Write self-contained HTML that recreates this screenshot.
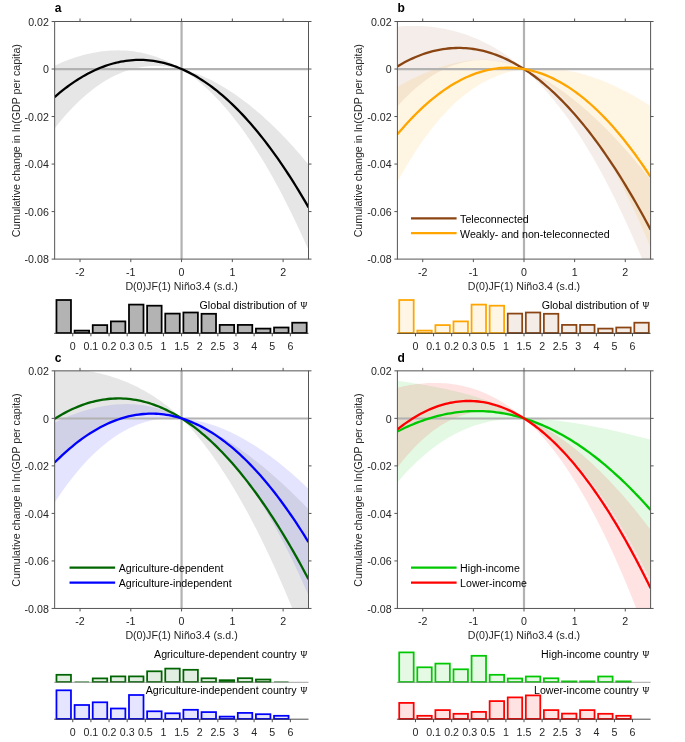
<!DOCTYPE html>
<html><head><meta charset="utf-8"><style>
html,body{margin:0;padding:0;background:#fff;}
body{width:685px;height:742px;overflow:hidden;}
svg{display:block;will-change:transform;}
.t{font-family:"Liberation Sans", sans-serif;font-size:10.65px;fill:#262626;}
.lt{font-family:"Liberation Sans", sans-serif;font-size:12px;font-weight:bold;fill:#000;}
.k{fill:#000;}
.psi{font-family:"Liberation Serif", serif;}
</style></head><body>
<svg width="685" height="742" viewBox="0 0 685 742">
<rect width="685" height="742" fill="#ffffff"/>
<defs><clipPath id="clipa"><rect x="54.65" y="21.50" width="253.85" height="237.60"/></clipPath></defs>
<g clip-path="url(#clipa)">
<path d="M54.65,65.69 L57.19,64.52 L59.73,63.39 L62.27,62.31 L64.80,61.27 L67.34,60.28 L69.88,59.33 L72.42,58.43 L74.96,57.57 L77.50,56.77 L80.03,56.00 L82.57,55.29 L85.11,54.62 L87.65,54.00 L90.19,53.42 L92.73,52.90 L95.27,52.42 L97.80,51.99 L100.34,51.61 L102.88,51.28 L105.42,51.00 L107.96,50.77 L110.50,50.59 L113.04,50.46 L115.57,50.38 L118.11,50.36 L120.65,50.39 L123.19,50.47 L125.73,50.61 L128.27,50.80 L130.81,51.05 L133.34,51.35 L135.88,51.72 L138.42,52.14 L140.96,52.62 L143.50,53.16 L146.04,53.76 L148.57,54.42 L151.11,55.14 L153.65,55.93 L156.19,56.78 L158.73,57.70 L161.27,58.68 L163.81,59.73 L166.34,60.84 L168.88,62.03 L171.42,63.29 L173.96,64.61 L176.50,66.01 L179.04,67.48 L181.57,69.02 L184.11,69.68 L186.65,70.39 L189.19,71.16 L191.73,71.99 L194.27,72.88 L196.81,73.82 L199.34,74.82 L201.88,75.87 L204.42,76.98 L206.96,78.14 L209.50,79.35 L212.04,80.61 L214.58,81.93 L217.11,83.30 L219.65,84.72 L222.19,86.19 L224.73,87.71 L227.27,89.28 L229.81,90.90 L232.34,92.58 L234.88,94.29 L237.42,96.06 L239.96,97.88 L242.50,99.74 L245.04,101.65 L247.58,103.61 L250.11,105.62 L252.65,107.68 L255.19,109.78 L257.73,111.93 L260.27,114.12 L262.81,116.36 L265.35,118.65 L267.88,120.99 L270.42,123.37 L272.96,125.80 L275.50,128.27 L278.04,130.79 L280.58,133.35 L283.12,135.96 L285.65,138.61 L288.19,141.31 L290.73,144.06 L293.27,146.85 L295.81,149.68 L298.35,152.56 L300.88,155.49 L303.42,158.46 L305.96,161.48 L308.50,164.54 L308.50,250.07 L305.96,244.34 L303.42,238.70 L300.88,233.14 L298.35,227.67 L295.81,222.30 L293.27,217.01 L290.73,211.80 L288.19,206.69 L285.65,201.66 L283.12,196.72 L280.58,191.87 L278.04,187.11 L275.50,182.43 L272.96,177.84 L270.42,173.34 L267.88,168.93 L265.35,164.60 L262.81,160.36 L260.27,156.20 L257.73,152.14 L255.19,148.15 L252.65,144.26 L250.11,140.45 L247.58,136.73 L245.04,133.09 L242.50,129.54 L239.96,126.07 L237.42,122.69 L234.88,119.39 L232.34,116.17 L229.81,113.05 L227.27,110.00 L224.73,107.04 L222.19,104.16 L219.65,101.36 L217.11,98.65 L214.58,96.02 L212.04,93.46 L209.50,90.99 L206.96,88.61 L204.42,86.30 L201.88,84.07 L199.34,81.92 L196.81,79.84 L194.27,77.85 L191.73,75.93 L189.19,74.09 L186.65,72.33 L184.11,70.64 L181.57,69.02 L179.04,68.42 L176.50,67.89 L173.96,67.41 L171.42,67.00 L168.88,66.65 L166.34,66.36 L163.81,66.14 L161.27,65.98 L158.73,65.89 L156.19,65.86 L153.65,65.91 L151.11,66.02 L148.57,66.20 L146.04,66.45 L143.50,66.78 L140.96,67.18 L138.42,67.65 L135.88,68.19 L133.34,68.81 L130.81,69.50 L128.27,70.27 L125.73,71.12 L123.19,72.05 L120.65,73.05 L118.11,74.14 L115.57,75.30 L113.04,76.55 L110.50,77.87 L107.96,79.28 L105.42,80.77 L102.88,82.34 L100.34,84.00 L97.80,85.74 L95.27,87.56 L92.73,89.47 L90.19,91.46 L87.65,93.54 L85.11,95.70 L82.57,97.95 L80.03,100.28 L77.50,102.71 L74.96,105.21 L72.42,107.81 L69.88,110.49 L67.34,113.26 L64.80,116.12 L62.27,119.06 L59.73,122.09 L57.19,125.21 L54.65,128.42 Z" fill="#808080" fill-opacity="0.200" stroke="none"/>
<line x1="54.65" y1="69.17" x2="308.50" y2="69.17" stroke="#b2b2b2" stroke-width="2.2"/>
<line x1="181.57" y1="21.50" x2="181.57" y2="259.10" stroke="#b2b2b2" stroke-width="2.2"/>
<path d="M54.65,97.06 L57.19,94.87 L59.73,92.74 L62.27,90.68 L64.80,88.69 L67.34,86.77 L69.88,84.91 L72.42,83.12 L74.96,81.39 L77.50,79.74 L80.03,78.14 L82.57,76.62 L85.11,75.16 L87.65,73.77 L90.19,72.44 L92.73,71.18 L95.27,69.99 L97.80,68.86 L100.34,67.80 L102.88,66.81 L105.42,65.88 L107.96,65.02 L110.50,64.23 L113.04,63.50 L115.57,62.84 L118.11,62.25 L120.65,61.72 L123.19,61.26 L125.73,60.87 L128.27,60.54 L130.81,60.28 L133.34,60.08 L135.88,59.95 L138.42,59.89 L140.96,59.90 L143.50,59.97 L146.04,60.11 L148.57,60.31 L151.11,60.58 L153.65,60.92 L156.19,61.32 L158.73,61.79 L161.27,62.33 L163.81,62.93 L166.34,63.60 L168.88,64.34 L171.42,65.14 L173.96,66.01 L176.50,66.95 L179.04,67.95 L181.57,69.02 L184.11,70.16 L186.65,71.36 L189.19,72.63 L191.73,73.96 L194.27,75.36 L196.81,76.83 L199.34,78.37 L201.88,79.97 L204.42,81.64 L206.96,83.37 L209.50,85.17 L212.04,87.04 L214.58,88.97 L217.11,90.97 L219.65,93.04 L222.19,95.18 L224.73,97.38 L227.27,99.64 L229.81,101.98 L232.34,104.37 L234.88,106.84 L237.42,109.37 L239.96,111.97 L242.50,114.64 L245.04,117.37 L247.58,120.17 L250.11,123.04 L252.65,125.97 L255.19,128.97 L257.73,132.03 L260.27,135.16 L262.81,138.36 L265.35,141.63 L267.88,144.96 L270.42,148.35 L272.96,151.82 L275.50,155.35 L278.04,158.95 L280.58,162.61 L283.12,166.34 L285.65,170.14 L288.19,174.00 L290.73,177.93 L293.27,181.93 L295.81,185.99 L298.35,190.12 L300.88,194.32 L303.42,198.58 L305.96,202.91 L308.50,207.30" fill="none" stroke="#000000" stroke-width="2.3"/>
</g>
<rect x="54.65" y="21.50" width="253.85" height="237.60" fill="none" stroke="#555555" stroke-width="1"/>
<path d="M80.03,259.10 v3 M80.03,21.50 v-3 M130.81,259.10 v3 M130.81,21.50 v-3 M181.57,259.10 v3 M181.57,21.50 v-3 M232.34,259.10 v3 M232.34,21.50 v-3 M283.12,259.10 v3 M283.12,21.50 v-3 M54.65,21.50 h-3 M308.50,21.50 h3 M54.65,69.02 h-3 M308.50,69.02 h3 M54.65,116.54 h-3 M308.50,116.54 h3 M54.65,164.06 h-3 M308.50,164.06 h3 M54.65,211.58 h-3 M308.50,211.58 h3 M54.65,259.10 h-3 M308.50,259.10 h3" stroke="#555555" stroke-width="1" fill="none"/>
<text x="80.03" y="275.50" text-anchor="middle" class="t">-2</text>
<text x="130.81" y="275.50" text-anchor="middle" class="t">-1</text>
<text x="181.57" y="275.50" text-anchor="middle" class="t">0</text>
<text x="232.34" y="275.50" text-anchor="middle" class="t">1</text>
<text x="283.12" y="275.50" text-anchor="middle" class="t">2</text>
<text x="48.85" y="25.80" text-anchor="end" class="t">0.02</text>
<text x="48.85" y="73.32" text-anchor="end" class="t">0</text>
<text x="48.85" y="120.84" text-anchor="end" class="t">-0.02</text>
<text x="48.85" y="168.36" text-anchor="end" class="t">-0.04</text>
<text x="48.85" y="215.88" text-anchor="end" class="t">-0.06</text>
<text x="48.85" y="263.40" text-anchor="end" class="t">-0.08</text>
<text x="181.57" y="290.10" text-anchor="middle" class="t">D(0)JF(1) Niño3.4 (s.d.)</text>
<text transform="translate(19.65,140.70) rotate(-90)" text-anchor="middle" class="t">Cumulative change in ln(GDP per capita)</text>
<text x="54.85" y="12.40" class="lt">a</text>
<defs><clipPath id="clipb"><rect x="397.40" y="21.50" width="253.20" height="237.60"/></clipPath></defs>
<g clip-path="url(#clipb)">
<path d="M397.40,26.61 L399.93,26.39 L402.46,26.22 L405.00,26.07 L407.53,25.97 L410.06,25.91 L412.59,25.88 L415.12,25.89 L417.66,25.94 L420.19,26.03 L422.72,26.16 L425.25,26.32 L427.78,26.53 L430.32,26.78 L432.85,27.06 L435.38,27.39 L437.91,27.76 L440.44,28.16 L442.98,28.61 L445.51,29.11 L448.04,29.64 L450.57,30.22 L453.10,30.84 L455.64,31.51 L458.17,32.22 L460.70,32.97 L463.23,33.77 L465.76,34.62 L468.30,35.52 L470.83,36.46 L473.36,37.45 L475.89,38.50 L478.42,39.59 L480.96,40.73 L483.49,41.93 L486.02,43.18 L488.55,44.48 L491.08,45.84 L493.62,47.26 L496.15,48.73 L498.68,50.27 L501.21,51.86 L503.74,53.51 L506.28,55.22 L508.81,57.00 L511.34,58.84 L513.87,60.74 L516.40,62.71 L518.94,64.74 L521.47,66.85 L524.00,69.02 L526.53,70.11 L529.06,71.25 L531.60,72.44 L534.13,73.69 L536.66,75.00 L539.19,76.35 L541.72,77.76 L544.26,79.22 L546.79,80.73 L549.32,82.28 L551.85,83.89 L554.38,85.54 L556.92,87.24 L559.45,88.99 L561.98,90.78 L564.51,92.62 L567.04,94.50 L569.58,96.42 L572.11,98.39 L574.64,100.41 L577.17,102.47 L579.70,104.56 L582.24,106.71 L584.77,108.89 L587.30,111.11 L589.83,113.38 L592.36,115.69 L594.90,118.03 L597.43,120.42 L599.96,122.85 L602.49,125.32 L605.02,127.82 L607.56,130.37 L610.09,132.95 L612.62,135.58 L615.15,138.24 L617.68,140.94 L620.22,143.68 L622.75,146.46 L625.28,149.27 L627.81,152.13 L630.34,155.02 L632.88,157.95 L635.41,160.92 L637.94,163.92 L640.47,166.96 L643.00,170.04 L645.54,173.16 L648.07,176.31 L650.60,179.50 L650.60,279.77 L648.07,273.44 L645.54,267.20 L643.00,261.05 L640.47,254.98 L637.94,249.01 L635.41,243.12 L632.88,237.33 L630.34,231.62 L627.81,226.00 L625.28,220.47 L622.75,215.03 L620.22,209.68 L617.68,204.41 L615.15,199.24 L612.62,194.15 L610.09,189.15 L607.56,184.23 L605.02,179.40 L602.49,174.66 L599.96,170.01 L597.43,165.45 L594.90,160.97 L592.36,156.57 L589.83,152.27 L587.30,148.04 L584.77,143.91 L582.24,139.85 L579.70,135.89 L577.17,132.00 L574.64,128.20 L572.11,124.49 L569.58,120.86 L567.04,117.31 L564.51,113.84 L561.98,110.45 L559.45,107.15 L556.92,103.92 L554.38,100.78 L551.85,97.71 L549.32,94.72 L546.79,91.82 L544.26,88.98 L541.72,86.23 L539.19,83.55 L536.66,80.95 L534.13,78.42 L531.60,75.96 L529.06,73.57 L526.53,71.26 L524.00,69.02 L521.47,67.99 L518.94,67.02 L516.40,66.11 L513.87,65.25 L511.34,64.46 L508.81,63.73 L506.28,63.06 L503.74,62.46 L501.21,61.92 L498.68,61.45 L496.15,61.04 L493.62,60.71 L491.08,60.44 L488.55,60.24 L486.02,60.11 L483.49,60.06 L480.96,60.07 L478.42,60.17 L475.89,60.33 L473.36,60.58 L470.83,60.89 L468.30,61.29 L465.76,61.77 L463.23,62.32 L460.70,62.95 L458.17,63.67 L455.64,64.46 L453.10,65.34 L450.57,66.30 L448.04,67.34 L445.51,68.47 L442.98,69.68 L440.44,70.97 L437.91,72.35 L435.38,73.81 L432.85,75.36 L430.32,77.00 L427.78,78.72 L425.25,80.53 L422.72,82.42 L420.19,84.40 L417.66,86.47 L415.12,88.63 L412.59,90.87 L410.06,93.21 L407.53,95.63 L405.00,98.14 L402.46,100.74 L399.93,103.43 L397.40,106.20 Z" fill="#8b4513" fill-opacity="0.095" stroke="none"/>
<path d="M397.40,86.96 L399.93,85.51 L402.46,84.09 L405.00,82.71 L407.53,81.36 L410.06,80.05 L412.59,78.77 L415.12,77.53 L417.66,76.33 L420.19,75.16 L422.72,74.03 L425.25,72.94 L427.78,71.88 L430.32,70.87 L432.85,69.89 L435.38,68.95 L437.91,68.06 L440.44,67.20 L442.98,66.38 L445.51,65.61 L448.04,64.88 L450.57,64.20 L453.10,63.56 L455.64,62.97 L458.17,62.42 L460.70,61.92 L463.23,61.47 L465.76,61.08 L468.30,60.73 L470.83,60.44 L473.36,60.20 L475.89,60.01 L478.42,59.89 L480.96,59.82 L483.49,59.81 L486.02,59.86 L488.55,59.98 L491.08,60.16 L493.62,60.41 L496.15,60.72 L498.68,61.10 L501.21,61.55 L503.74,62.08 L506.28,62.67 L508.81,63.35 L511.34,64.09 L513.87,64.92 L516.40,65.82 L518.94,66.81 L521.47,67.87 L524.00,69.02 L526.53,68.71 L529.06,68.45 L531.60,68.25 L534.13,68.09 L536.66,67.99 L539.19,67.94 L541.72,67.93 L544.26,67.98 L546.79,68.07 L549.32,68.20 L551.85,68.38 L554.38,68.61 L556.92,68.88 L559.45,69.20 L561.98,69.56 L564.51,69.96 L567.04,70.40 L569.58,70.88 L572.11,71.41 L574.64,71.97 L577.17,72.57 L579.70,73.22 L582.24,73.90 L584.77,74.62 L587.30,75.38 L589.83,76.18 L592.36,77.02 L594.90,77.89 L597.43,78.80 L599.96,79.75 L602.49,80.74 L605.02,81.76 L607.56,82.82 L610.09,83.91 L612.62,85.04 L615.15,86.21 L617.68,87.41 L620.22,88.64 L622.75,89.92 L625.28,91.22 L627.81,92.57 L630.34,93.94 L632.88,95.36 L635.41,96.80 L637.94,98.28 L640.47,99.80 L643.00,101.35 L645.54,102.93 L648.07,104.55 L650.60,106.20 L650.60,247.58 L648.07,241.52 L645.54,235.57 L643.00,229.72 L640.47,223.97 L637.94,218.33 L635.41,212.80 L632.88,207.37 L630.34,202.04 L627.81,196.82 L625.28,191.70 L622.75,186.68 L620.22,181.77 L617.68,176.96 L615.15,172.25 L612.62,167.64 L610.09,163.14 L607.56,158.74 L605.02,154.45 L602.49,150.25 L599.96,146.16 L597.43,142.17 L594.90,138.28 L592.36,134.50 L589.83,130.81 L587.30,127.22 L584.77,123.74 L582.24,120.35 L579.70,117.07 L577.17,113.88 L574.64,110.80 L572.11,107.81 L569.58,104.92 L567.04,102.13 L564.51,99.43 L561.98,96.83 L559.45,94.33 L556.92,91.92 L554.38,89.61 L551.85,87.40 L549.32,85.27 L546.79,83.24 L544.26,81.30 L541.72,79.46 L539.19,77.70 L536.66,76.04 L534.13,74.46 L531.60,72.97 L529.06,71.57 L526.53,70.25 L524.00,69.02 L521.47,69.39 L518.94,69.81 L516.40,70.29 L513.87,70.83 L511.34,71.43 L508.81,72.08 L506.28,72.81 L503.74,73.59 L501.21,74.44 L498.68,75.36 L496.15,76.35 L493.62,77.40 L491.08,78.53 L488.55,79.73 L486.02,81.01 L483.49,82.36 L480.96,83.78 L478.42,85.29 L475.89,86.88 L473.36,88.54 L470.83,90.30 L468.30,92.13 L465.76,94.05 L463.23,96.06 L460.70,98.15 L458.17,100.34 L455.64,102.61 L453.10,104.98 L450.57,107.44 L448.04,109.99 L445.51,112.64 L442.98,115.38 L440.44,118.22 L437.91,121.16 L435.38,124.19 L432.85,127.32 L430.32,130.55 L427.78,133.88 L425.25,137.31 L422.72,140.84 L420.19,144.47 L417.66,148.20 L415.12,152.04 L412.59,155.97 L410.06,160.01 L407.53,164.16 L405.00,168.40 L402.46,172.75 L399.93,177.20 L397.40,181.76 Z" fill="#ffa500" fill-opacity="0.110" stroke="none"/>
<line x1="397.40" y1="69.17" x2="650.60" y2="69.17" stroke="#b2b2b2" stroke-width="2.2"/>
<line x1="524.00" y1="21.50" x2="524.00" y2="259.10" stroke="#b2b2b2" stroke-width="2.2"/>
<path d="M397.40,66.41 L399.93,64.91 L402.46,63.48 L405.00,62.11 L407.53,60.80 L410.06,59.56 L412.59,58.38 L415.12,57.26 L417.66,56.21 L420.19,55.22 L422.72,54.29 L425.25,53.42 L427.78,52.62 L430.32,51.89 L432.85,51.21 L435.38,50.60 L437.91,50.05 L440.44,49.57 L442.98,49.15 L445.51,48.79 L448.04,48.49 L450.57,48.26 L453.10,48.09 L455.64,47.98 L458.17,47.94 L460.70,47.96 L463.23,48.05 L465.76,48.19 L468.30,48.40 L470.83,48.68 L473.36,49.01 L475.89,49.41 L478.42,49.88 L480.96,50.40 L483.49,50.99 L486.02,51.65 L488.55,52.36 L491.08,53.14 L493.62,53.98 L496.15,54.89 L498.68,55.86 L501.21,56.89 L503.74,57.98 L506.28,59.14 L508.81,60.36 L511.34,61.65 L513.87,63.00 L516.40,64.41 L518.94,65.88 L521.47,67.42 L524.00,69.02 L526.53,70.68 L529.06,72.41 L531.60,74.20 L534.13,76.05 L536.66,77.97 L539.19,79.95 L541.72,81.99 L544.26,84.10 L546.79,86.27 L549.32,88.50 L551.85,90.80 L554.38,93.16 L556.92,95.58 L559.45,98.07 L561.98,100.61 L564.51,103.23 L567.04,105.90 L569.58,108.64 L572.11,111.44 L574.64,114.31 L577.17,117.23 L579.70,120.23 L582.24,123.28 L584.77,126.40 L587.30,129.58 L589.83,132.82 L592.36,136.13 L594.90,139.50 L597.43,142.93 L599.96,146.43 L602.49,149.99 L605.02,153.61 L607.56,157.30 L610.09,161.05 L612.62,164.86 L615.15,168.74 L617.68,172.68 L620.22,176.68 L622.75,180.74 L625.28,184.87 L627.81,189.07 L630.34,193.32 L632.88,197.64 L635.41,202.02 L637.94,206.47 L640.47,210.97 L643.00,215.54 L645.54,220.18 L648.07,224.88 L650.60,229.64" fill="none" stroke="#8b4513" stroke-width="2.3"/>
<path d="M397.40,134.36 L399.93,131.36 L402.46,128.42 L405.00,125.56 L407.53,122.76 L410.06,120.03 L412.59,117.37 L415.12,114.79 L417.66,112.27 L420.19,109.82 L422.72,107.44 L425.25,105.12 L427.78,102.88 L430.32,100.71 L432.85,98.61 L435.38,96.57 L437.91,94.61 L440.44,92.71 L442.98,90.88 L445.51,89.13 L448.04,87.44 L450.57,85.82 L453.10,84.27 L455.64,82.79 L458.17,81.38 L460.70,80.04 L463.23,78.77 L465.76,77.56 L468.30,76.43 L470.83,75.37 L473.36,74.37 L475.89,73.45 L478.42,72.59 L480.96,71.80 L483.49,71.08 L486.02,70.43 L488.55,69.86 L491.08,69.35 L493.62,68.90 L496.15,68.53 L498.68,68.23 L501.21,68.00 L503.74,67.83 L506.28,67.74 L508.81,67.72 L511.34,67.76 L513.87,67.87 L516.40,68.06 L518.94,68.31 L521.47,68.63 L524.00,69.02 L526.53,69.48 L529.06,70.01 L531.60,70.61 L534.13,71.28 L536.66,72.01 L539.19,72.82 L541.72,73.69 L544.26,74.64 L546.79,75.65 L549.32,76.74 L551.85,77.89 L554.38,79.11 L556.92,80.40 L559.45,81.76 L561.98,83.19 L564.51,84.69 L567.04,86.26 L569.58,87.90 L572.11,89.61 L574.64,91.38 L577.17,93.23 L579.70,95.14 L582.24,97.13 L584.77,99.18 L587.30,101.30 L589.83,103.50 L592.36,105.76 L594.90,108.09 L597.43,110.49 L599.96,112.96 L602.49,115.50 L605.02,118.10 L607.56,120.78 L610.09,123.53 L612.62,126.34 L615.15,129.23 L617.68,132.18 L620.22,135.20 L622.75,138.30 L625.28,141.46 L627.81,144.69 L630.34,147.99 L632.88,151.36 L635.41,154.80 L637.94,158.31 L640.47,161.89 L643.00,165.53 L645.54,169.25 L648.07,173.04 L650.60,176.89" fill="none" stroke="#ffa500" stroke-width="2.3"/>
</g>
<rect x="397.40" y="21.50" width="253.20" height="237.60" fill="none" stroke="#555555" stroke-width="1"/>
<path d="M422.72,259.10 v3 M422.72,21.50 v-3 M473.36,259.10 v3 M473.36,21.50 v-3 M524.00,259.10 v3 M524.00,21.50 v-3 M574.64,259.10 v3 M574.64,21.50 v-3 M625.28,259.10 v3 M625.28,21.50 v-3 M397.40,21.50 h-3 M650.60,21.50 h3 M397.40,69.02 h-3 M650.60,69.02 h3 M397.40,116.54 h-3 M650.60,116.54 h3 M397.40,164.06 h-3 M650.60,164.06 h3 M397.40,211.58 h-3 M650.60,211.58 h3 M397.40,259.10 h-3 M650.60,259.10 h3" stroke="#555555" stroke-width="1" fill="none"/>
<text x="422.72" y="275.50" text-anchor="middle" class="t">-2</text>
<text x="473.36" y="275.50" text-anchor="middle" class="t">-1</text>
<text x="524.00" y="275.50" text-anchor="middle" class="t">0</text>
<text x="574.64" y="275.50" text-anchor="middle" class="t">1</text>
<text x="625.28" y="275.50" text-anchor="middle" class="t">2</text>
<text x="391.60" y="25.80" text-anchor="end" class="t">0.02</text>
<text x="391.60" y="73.32" text-anchor="end" class="t">0</text>
<text x="391.60" y="120.84" text-anchor="end" class="t">-0.02</text>
<text x="391.60" y="168.36" text-anchor="end" class="t">-0.04</text>
<text x="391.60" y="215.88" text-anchor="end" class="t">-0.06</text>
<text x="391.60" y="263.40" text-anchor="end" class="t">-0.08</text>
<text x="524.00" y="290.10" text-anchor="middle" class="t">D(0)JF(1) Niño3.4 (s.d.)</text>
<text transform="translate(362.40,140.70) rotate(-90)" text-anchor="middle" class="t">Cumulative change in ln(GDP per capita)</text>
<text x="397.60" y="12.40" class="lt">b</text>
<line x1="411.00" y1="218.30" x2="456.60" y2="218.30" stroke="#8b4513" stroke-width="2.3"/>
<text x="460.10" y="222.70" class="t k">Teleconnected</text>
<line x1="411.00" y1="233.20" x2="456.60" y2="233.20" stroke="#ffa500" stroke-width="2.3"/>
<text x="460.10" y="237.60" class="t k">Weakly- and non-teleconnected</text>
<defs><clipPath id="clipc"><rect x="54.65" y="370.85" width="253.85" height="237.60"/></clipPath></defs>
<g clip-path="url(#clipc)">
<path d="M54.65,422.65 L57.19,421.41 L59.73,420.21 L62.27,419.05 L64.80,417.93 L67.34,416.86 L69.88,415.82 L72.42,414.83 L74.96,413.88 L77.50,412.97 L80.03,412.10 L82.57,411.27 L85.11,410.49 L87.65,409.74 L90.19,409.05 L92.73,408.39 L95.27,407.78 L97.80,407.22 L100.34,406.70 L102.88,406.22 L105.42,405.80 L107.96,405.41 L110.50,405.08 L113.04,404.79 L115.57,404.55 L118.11,404.37 L120.65,404.23 L123.19,404.14 L125.73,404.10 L128.27,404.12 L130.81,404.19 L133.34,404.31 L135.88,404.49 L138.42,404.73 L140.96,405.02 L143.50,405.37 L146.04,405.78 L148.57,406.25 L151.11,406.79 L153.65,407.38 L156.19,408.04 L158.73,408.76 L161.27,409.55 L163.81,410.41 L166.34,411.33 L168.88,412.33 L171.42,413.39 L173.96,414.53 L176.50,415.73 L179.04,417.01 L181.57,418.37 L184.11,418.60 L186.65,418.88 L189.19,419.23 L191.73,419.63 L194.27,420.08 L196.81,420.59 L199.34,421.15 L201.88,421.77 L204.42,422.43 L206.96,423.15 L209.50,423.92 L212.04,424.74 L214.58,425.61 L217.11,426.53 L219.65,427.49 L222.19,428.50 L224.73,429.56 L227.27,430.67 L229.81,431.83 L232.34,433.02 L234.88,434.27 L237.42,435.56 L239.96,436.89 L242.50,438.27 L245.04,439.70 L247.58,441.16 L250.11,442.67 L252.65,444.23 L255.19,445.82 L257.73,447.46 L260.27,449.14 L262.81,450.87 L265.35,452.63 L267.88,454.44 L270.42,456.29 L272.96,458.18 L275.50,460.12 L278.04,462.09 L280.58,464.10 L283.12,466.16 L285.65,468.25 L288.19,470.39 L290.73,472.57 L293.27,474.79 L295.81,477.04 L298.35,479.34 L300.88,481.68 L303.42,484.06 L305.96,486.48 L308.50,488.94 L308.50,595.38 L305.96,589.60 L303.42,583.91 L300.88,578.31 L298.35,572.81 L295.81,567.40 L293.27,562.08 L290.73,556.86 L288.19,551.74 L285.65,546.71 L283.12,541.77 L280.58,536.92 L278.04,532.17 L275.50,527.51 L272.96,522.95 L270.42,518.48 L267.88,514.10 L265.35,509.81 L262.81,505.62 L260.27,501.52 L257.73,497.51 L255.19,493.59 L252.65,489.77 L250.11,486.03 L247.58,482.39 L245.04,478.84 L242.50,475.38 L239.96,472.00 L237.42,468.72 L234.88,465.53 L232.34,462.43 L229.81,459.42 L227.27,456.49 L224.73,453.66 L222.19,450.91 L219.65,448.25 L217.11,445.67 L214.58,443.18 L212.04,440.78 L209.50,438.46 L206.96,436.23 L204.42,434.08 L201.88,432.01 L199.34,430.03 L196.81,428.12 L194.27,426.30 L191.73,424.56 L189.19,422.89 L186.65,421.31 L184.11,419.80 L181.57,418.37 L179.04,418.20 L176.50,418.09 L173.96,418.04 L171.42,418.06 L168.88,418.13 L166.34,418.27 L163.81,418.48 L161.27,418.75 L158.73,419.09 L156.19,419.50 L153.65,419.98 L151.11,420.53 L148.57,421.15 L146.04,421.84 L143.50,422.61 L140.96,423.45 L138.42,424.37 L135.88,425.36 L133.34,426.44 L130.81,427.59 L128.27,428.82 L125.73,430.14 L123.19,431.53 L120.65,433.01 L118.11,434.57 L115.57,436.22 L113.04,437.95 L110.50,439.77 L107.96,441.67 L105.42,443.66 L102.88,445.74 L100.34,447.91 L97.80,450.16 L95.27,452.51 L92.73,454.94 L90.19,457.47 L87.65,460.08 L85.11,462.79 L82.57,465.59 L80.03,468.48 L77.50,471.46 L74.96,474.53 L72.42,477.70 L69.88,480.96 L67.34,484.31 L64.80,487.76 L62.27,491.30 L59.73,494.93 L57.19,498.66 L54.65,502.48 Z" fill="#0000ff" fill-opacity="0.105" stroke="none"/>
<path d="M54.65,368.01 L57.19,368.04 L59.73,368.11 L62.27,368.21 L64.80,368.33 L67.34,368.49 L69.88,368.68 L72.42,368.90 L74.96,369.16 L77.50,369.44 L80.03,369.76 L82.57,370.11 L85.11,370.50 L87.65,370.92 L90.19,371.38 L92.73,371.87 L95.27,372.39 L97.80,372.95 L100.34,373.55 L102.88,374.19 L105.42,374.87 L107.96,375.58 L110.50,376.34 L113.04,377.14 L115.57,377.98 L118.11,378.86 L120.65,379.78 L123.19,380.75 L125.73,381.77 L128.27,382.84 L130.81,383.95 L133.34,385.11 L135.88,386.32 L138.42,387.59 L140.96,388.91 L143.50,390.28 L146.04,391.71 L148.57,393.19 L151.11,394.74 L153.65,396.34 L156.19,398.01 L158.73,399.74 L161.27,401.54 L163.81,403.40 L166.34,405.32 L168.88,407.32 L171.42,409.38 L173.96,411.52 L176.50,413.73 L179.04,416.01 L181.57,418.37 L184.11,419.21 L186.65,420.10 L189.19,421.04 L191.73,422.03 L194.27,423.07 L196.81,424.15 L199.34,425.29 L201.88,426.46 L204.42,427.69 L206.96,428.95 L209.50,430.26 L212.04,431.62 L214.58,433.01 L217.11,434.44 L219.65,435.92 L222.19,437.43 L224.73,438.98 L227.27,440.57 L229.81,442.20 L232.34,443.86 L234.88,445.57 L237.42,447.30 L239.96,449.08 L242.50,450.89 L245.04,452.73 L247.58,454.61 L250.11,456.52 L252.65,458.47 L255.19,460.45 L257.73,462.46 L260.27,464.50 L262.81,466.58 L265.35,468.69 L267.88,470.84 L270.42,473.01 L272.96,475.22 L275.50,477.46 L278.04,479.73 L280.58,482.03 L283.12,484.36 L285.65,486.72 L288.19,489.11 L290.73,491.54 L293.27,493.99 L295.81,496.47 L298.35,498.99 L300.88,501.53 L303.42,504.11 L305.96,506.71 L308.50,509.34 L308.50,649.55 L305.96,642.86 L303.42,636.26 L300.88,629.74 L298.35,623.31 L295.81,616.96 L293.27,610.70 L290.73,604.53 L288.19,598.44 L285.65,592.44 L283.12,586.52 L280.58,580.69 L278.04,574.94 L275.50,569.28 L272.96,563.71 L270.42,558.22 L267.88,552.82 L265.35,547.50 L262.81,542.26 L260.27,537.11 L257.73,532.05 L255.19,527.06 L252.65,522.17 L250.11,517.35 L247.58,512.62 L245.04,507.98 L242.50,503.42 L239.96,498.94 L237.42,494.54 L234.88,490.23 L232.34,486.00 L229.81,481.85 L227.27,477.78 L224.73,473.80 L222.19,469.90 L219.65,466.08 L217.11,462.34 L214.58,458.68 L212.04,455.10 L209.50,451.61 L206.96,448.19 L204.42,444.85 L201.88,441.60 L199.34,438.42 L196.81,435.32 L194.27,432.30 L191.73,429.36 L189.19,426.50 L186.65,423.71 L184.11,421.00 L181.57,418.37 L179.04,417.78 L176.50,417.25 L173.96,416.76 L171.42,416.33 L168.88,415.96 L166.34,415.64 L163.81,415.37 L161.27,415.16 L158.73,415.01 L156.19,414.91 L153.65,414.87 L151.11,414.89 L148.57,414.96 L146.04,415.09 L143.50,415.28 L140.96,415.53 L138.42,415.84 L135.88,416.20 L133.34,416.63 L130.81,417.12 L128.27,417.68 L125.73,418.29 L123.19,418.97 L120.65,419.71 L118.11,420.51 L115.57,421.38 L113.04,422.32 L110.50,423.31 L107.96,424.38 L105.42,425.51 L102.88,426.71 L100.34,427.98 L97.80,429.32 L95.27,430.72 L92.73,432.20 L90.19,433.74 L87.65,435.36 L85.11,437.04 L82.57,438.80 L80.03,440.63 L77.50,442.54 L74.96,444.51 L72.42,446.57 L69.88,448.69 L67.34,450.89 L64.80,453.17 L62.27,455.52 L59.73,457.95 L57.19,460.46 L54.65,463.04 Z" fill="#808080" fill-opacity="0.200" stroke="none"/>
<line x1="54.65" y1="418.52" x2="308.50" y2="418.52" stroke="#b2b2b2" stroke-width="2.2"/>
<line x1="181.57" y1="370.85" x2="181.57" y2="608.45" stroke="#b2b2b2" stroke-width="2.2"/>
<path d="M54.65,418.85 L57.19,417.25 L59.73,415.73 L62.27,414.27 L64.80,412.87 L67.34,411.54 L69.88,410.27 L72.42,409.07 L74.96,407.93 L77.50,406.85 L80.03,405.84 L82.57,404.90 L85.11,404.02 L87.65,403.20 L90.19,402.45 L92.73,401.76 L95.27,401.14 L97.80,400.58 L100.34,400.09 L102.88,399.66 L105.42,399.30 L107.96,399.00 L110.50,398.76 L113.04,398.59 L115.57,398.48 L118.11,398.44 L120.65,398.46 L123.19,398.55 L125.73,398.70 L128.27,398.92 L130.81,399.20 L133.34,399.55 L135.88,399.96 L138.42,400.43 L140.96,400.97 L143.50,401.57 L146.04,402.24 L148.57,402.97 L151.11,403.77 L153.65,404.63 L156.19,405.56 L158.73,406.55 L161.27,407.60 L163.81,408.72 L166.34,409.91 L168.88,411.16 L171.42,412.47 L173.96,413.85 L176.50,415.29 L179.04,416.80 L181.57,418.37 L184.11,420.01 L186.65,421.71 L189.19,423.47 L191.73,425.30 L194.27,427.20 L196.81,429.15 L199.34,431.18 L201.88,433.27 L204.42,435.42 L206.96,437.63 L209.50,439.92 L212.04,442.26 L214.58,444.67 L217.11,447.15 L219.65,449.69 L222.19,452.29 L224.73,454.96 L227.27,457.69 L229.81,460.49 L232.34,463.35 L234.88,466.28 L237.42,469.27 L239.96,472.33 L242.50,475.45 L245.04,478.63 L247.58,481.88 L250.11,485.19 L252.65,488.57 L255.19,492.02 L257.73,495.52 L260.27,499.10 L262.81,502.73 L265.35,506.43 L267.88,510.20 L270.42,514.03 L272.96,517.92 L275.50,521.88 L278.04,525.91 L280.58,529.99 L283.12,534.15 L285.65,538.37 L288.19,542.65 L290.73,546.99 L293.27,551.40 L295.81,555.88 L298.35,560.42 L300.88,565.02 L303.42,569.69 L305.96,574.43 L308.50,579.23" fill="none" stroke="#006400" stroke-width="2.3"/>
<path d="M54.65,462.56 L57.19,460.03 L59.73,457.57 L62.27,455.17 L64.80,452.85 L67.34,450.58 L69.88,448.39 L72.42,446.26 L74.96,444.20 L77.50,442.21 L80.03,440.29 L82.57,438.43 L85.11,436.64 L87.65,434.91 L90.19,433.26 L92.73,431.67 L95.27,430.15 L97.80,428.69 L100.34,427.30 L102.88,425.98 L105.42,424.73 L107.96,423.54 L110.50,422.42 L113.04,421.37 L115.57,420.39 L118.11,419.47 L120.65,418.62 L123.19,417.84 L125.73,417.12 L128.27,416.47 L130.81,415.89 L133.34,415.38 L135.88,414.93 L138.42,414.55 L140.96,414.24 L143.50,413.99 L146.04,413.81 L148.57,413.70 L151.11,413.66 L153.65,413.68 L156.19,413.77 L158.73,413.93 L161.27,414.15 L163.81,414.44 L166.34,414.80 L168.88,415.23 L171.42,415.72 L173.96,416.28 L176.50,416.91 L179.04,417.61 L181.57,418.37 L184.11,419.20 L186.65,420.10 L189.19,421.06 L191.73,422.09 L194.27,423.19 L196.81,424.36 L199.34,425.59 L201.88,426.89 L204.42,428.25 L206.96,429.69 L209.50,431.19 L212.04,432.76 L214.58,434.40 L217.11,436.10 L219.65,437.87 L222.19,439.71 L224.73,441.61 L227.27,443.58 L229.81,445.62 L232.34,447.73 L234.88,449.90 L237.42,452.14 L239.96,454.45 L242.50,456.82 L245.04,459.27 L247.58,461.78 L250.11,464.35 L252.65,467.00 L255.19,469.71 L257.73,472.49 L260.27,475.33 L262.81,478.24 L265.35,481.22 L267.88,484.27 L270.42,487.38 L272.96,490.57 L275.50,493.81 L278.04,497.13 L280.58,500.51 L283.12,503.96 L285.65,507.48 L288.19,511.06 L290.73,514.72 L293.27,518.44 L295.81,522.22 L298.35,526.07 L300.88,530.00 L303.42,533.98 L305.96,538.04 L308.50,542.16" fill="none" stroke="#0000ff" stroke-width="2.3"/>
</g>
<rect x="54.65" y="370.85" width="253.85" height="237.60" fill="none" stroke="#555555" stroke-width="1"/>
<path d="M80.03,608.45 v3 M80.03,370.85 v-3 M130.81,608.45 v3 M130.81,370.85 v-3 M181.57,608.45 v3 M181.57,370.85 v-3 M232.34,608.45 v3 M232.34,370.85 v-3 M283.12,608.45 v3 M283.12,370.85 v-3 M54.65,370.85 h-3 M308.50,370.85 h3 M54.65,418.37 h-3 M308.50,418.37 h3 M54.65,465.89 h-3 M308.50,465.89 h3 M54.65,513.41 h-3 M308.50,513.41 h3 M54.65,560.93 h-3 M308.50,560.93 h3 M54.65,608.45 h-3 M308.50,608.45 h3" stroke="#555555" stroke-width="1" fill="none"/>
<text x="80.03" y="624.85" text-anchor="middle" class="t">-2</text>
<text x="130.81" y="624.85" text-anchor="middle" class="t">-1</text>
<text x="181.57" y="624.85" text-anchor="middle" class="t">0</text>
<text x="232.34" y="624.85" text-anchor="middle" class="t">1</text>
<text x="283.12" y="624.85" text-anchor="middle" class="t">2</text>
<text x="48.85" y="375.15" text-anchor="end" class="t">0.02</text>
<text x="48.85" y="422.67" text-anchor="end" class="t">0</text>
<text x="48.85" y="470.19" text-anchor="end" class="t">-0.02</text>
<text x="48.85" y="517.71" text-anchor="end" class="t">-0.04</text>
<text x="48.85" y="565.23" text-anchor="end" class="t">-0.06</text>
<text x="48.85" y="612.75" text-anchor="end" class="t">-0.08</text>
<text x="181.57" y="639.45" text-anchor="middle" class="t">D(0)JF(1) Niño3.4 (s.d.)</text>
<text transform="translate(19.65,490.05) rotate(-90)" text-anchor="middle" class="t">Cumulative change in ln(GDP per capita)</text>
<text x="54.85" y="361.75" class="lt">c</text>
<line x1="69.55" y1="567.65" x2="115.15" y2="567.65" stroke="#006400" stroke-width="2.3"/>
<text x="118.65" y="572.05" class="t k">Agriculture-dependent</text>
<line x1="69.55" y1="582.55" x2="115.15" y2="582.55" stroke="#0000ff" stroke-width="2.3"/>
<text x="118.65" y="586.95" class="t k">Agriculture-independent</text>
<defs><clipPath id="clipd"><rect x="397.40" y="370.85" width="253.20" height="237.60"/></clipPath></defs>
<g clip-path="url(#clipd)">
<path d="M397.40,380.73 L399.93,381.09 L402.46,381.46 L405.00,381.83 L407.53,382.21 L410.06,382.60 L412.59,383.00 L415.12,383.40 L417.66,383.82 L420.19,384.24 L422.72,384.67 L425.25,385.11 L427.78,385.56 L430.32,386.02 L432.85,386.49 L435.38,386.97 L437.91,387.46 L440.44,387.97 L442.98,388.49 L445.51,389.03 L448.04,389.58 L450.57,390.14 L453.10,390.72 L455.64,391.32 L458.17,391.94 L460.70,392.57 L463.23,393.23 L465.76,393.91 L468.30,394.61 L470.83,395.33 L473.36,396.08 L475.89,396.85 L478.42,397.66 L480.96,398.49 L483.49,399.35 L486.02,400.24 L488.55,401.16 L491.08,402.12 L493.62,403.12 L496.15,404.15 L498.68,405.22 L501.21,406.33 L503.74,407.48 L506.28,408.68 L508.81,409.92 L511.34,411.20 L513.87,412.54 L516.40,413.92 L518.94,415.35 L521.47,416.83 L524.00,418.37 L526.53,418.39 L529.06,418.44 L531.60,418.51 L534.13,418.62 L536.66,418.74 L539.19,418.89 L541.72,419.07 L544.26,419.26 L546.79,419.48 L549.32,419.72 L551.85,419.98 L554.38,420.25 L556.92,420.55 L559.45,420.86 L561.98,421.19 L564.51,421.53 L567.04,421.89 L569.58,422.26 L572.11,422.65 L574.64,423.05 L577.17,423.46 L579.70,423.89 L582.24,424.33 L584.77,424.78 L587.30,425.24 L589.83,425.71 L592.36,426.20 L594.90,426.69 L597.43,427.19 L599.96,427.71 L602.49,428.23 L605.02,428.76 L607.56,429.30 L610.09,429.85 L612.62,430.41 L615.15,430.97 L617.68,431.55 L620.22,432.13 L622.75,432.72 L625.28,433.31 L627.81,433.92 L630.34,434.53 L632.88,435.15 L635.41,435.77 L637.94,436.40 L640.47,437.04 L643.00,437.69 L645.54,438.34 L648.07,439.00 L650.60,439.66 L650.60,580.32 L648.07,575.26 L645.54,570.28 L643.00,565.38 L640.47,560.56 L637.94,555.82 L635.41,551.15 L632.88,546.56 L630.34,542.04 L627.81,537.60 L625.28,533.24 L622.75,528.96 L620.22,524.75 L617.68,520.62 L615.15,516.56 L612.62,512.59 L610.09,508.68 L607.56,504.85 L605.02,501.10 L602.49,497.42 L599.96,493.82 L597.43,490.29 L594.90,486.83 L592.36,483.45 L589.83,480.15 L587.30,476.91 L584.77,473.75 L582.24,470.66 L579.70,467.65 L577.17,464.70 L574.64,461.83 L572.11,459.02 L569.58,456.29 L567.04,453.63 L564.51,451.04 L561.98,448.51 L559.45,446.05 L556.92,443.67 L554.38,441.34 L551.85,439.09 L549.32,436.90 L546.79,434.77 L544.26,432.70 L541.72,430.70 L539.19,428.76 L536.66,426.89 L534.13,425.07 L531.60,423.31 L529.06,421.61 L526.53,419.96 L524.00,418.37 L521.47,418.38 L518.94,418.42 L516.40,418.50 L513.87,418.60 L511.34,418.74 L508.81,418.92 L506.28,419.14 L503.74,419.40 L501.21,419.69 L498.68,420.03 L496.15,420.42 L493.62,420.84 L491.08,421.32 L488.55,421.84 L486.02,422.41 L483.49,423.04 L480.96,423.71 L478.42,424.44 L475.89,425.23 L473.36,426.07 L470.83,426.97 L468.30,427.93 L465.76,428.95 L463.23,430.03 L460.70,431.17 L458.17,432.38 L455.64,433.65 L453.10,434.98 L450.57,436.39 L448.04,437.86 L445.51,439.40 L442.98,441.00 L440.44,442.68 L437.91,444.43 L435.38,446.25 L432.85,448.14 L430.32,450.11 L427.78,452.14 L425.25,454.25 L422.72,456.44 L420.19,458.70 L417.66,461.03 L415.12,463.44 L412.59,465.92 L410.06,468.48 L407.53,471.12 L405.00,473.83 L402.46,476.62 L399.93,479.48 L397.40,482.43 Z" fill="#00c800" fill-opacity="0.110" stroke="none"/>
<path d="M397.40,387.86 L399.93,387.22 L402.46,386.62 L405.00,386.07 L407.53,385.55 L410.06,385.09 L412.59,384.66 L415.12,384.28 L417.66,383.95 L420.19,383.66 L422.72,383.41 L425.25,383.22 L427.78,383.06 L430.32,382.96 L432.85,382.90 L435.38,382.88 L437.91,382.92 L440.44,383.00 L442.98,383.14 L445.51,383.32 L448.04,383.55 L450.57,383.83 L453.10,384.17 L455.64,384.55 L458.17,384.99 L460.70,385.48 L463.23,386.03 L465.76,386.63 L468.30,387.29 L470.83,388.01 L473.36,388.79 L475.89,389.62 L478.42,390.52 L480.96,391.48 L483.49,392.50 L486.02,393.58 L488.55,394.73 L491.08,395.95 L493.62,397.23 L496.15,398.59 L498.68,400.01 L501.21,401.51 L503.74,403.07 L506.28,404.71 L508.81,406.43 L511.34,408.22 L513.87,410.09 L516.40,412.04 L518.94,414.07 L521.47,416.18 L524.00,418.37 L526.53,419.34 L529.06,420.38 L531.60,421.48 L534.13,422.63 L536.66,423.84 L539.19,425.11 L541.72,426.44 L544.26,427.82 L546.79,429.26 L549.32,430.75 L551.85,432.30 L554.38,433.89 L556.92,435.54 L559.45,437.24 L561.98,439.00 L564.51,440.80 L567.04,442.65 L569.58,444.56 L572.11,446.51 L574.64,448.51 L577.17,450.56 L579.70,452.65 L582.24,454.80 L584.77,456.99 L587.30,459.23 L589.83,461.51 L592.36,463.85 L594.90,466.22 L597.43,468.65 L599.96,471.12 L602.49,473.63 L605.02,476.19 L607.56,478.80 L610.09,481.44 L612.62,484.14 L615.15,486.88 L617.68,489.66 L620.22,492.49 L622.75,495.36 L625.28,498.27 L627.81,501.23 L630.34,504.23 L632.88,507.28 L635.41,510.37 L637.94,513.50 L640.47,516.67 L643.00,519.89 L645.54,523.15 L648.07,526.46 L650.60,529.80 L650.60,646.70 L648.07,639.71 L645.54,632.82 L643.00,626.04 L640.47,619.35 L637.94,612.76 L635.41,606.28 L632.88,599.89 L630.34,593.61 L627.81,587.43 L625.28,581.35 L622.75,575.36 L620.22,569.48 L617.68,563.70 L615.15,558.02 L612.62,552.44 L610.09,546.96 L607.56,541.58 L605.02,536.30 L602.49,531.12 L599.96,526.04 L597.43,521.06 L594.90,516.17 L592.36,511.39 L589.83,506.70 L587.30,502.11 L584.77,497.62 L582.24,493.23 L579.70,488.94 L577.17,484.74 L574.64,480.64 L572.11,476.64 L569.58,472.73 L567.04,468.92 L564.51,465.20 L561.98,461.58 L559.45,458.06 L556.92,454.63 L554.38,451.29 L551.85,448.05 L549.32,444.90 L546.79,441.84 L544.26,438.87 L541.72,436.00 L539.19,433.22 L536.66,430.52 L534.13,427.92 L531.60,425.40 L529.06,422.97 L526.53,420.63 L524.00,418.37 L521.47,417.44 L518.94,416.57 L516.40,415.76 L513.87,415.01 L511.34,414.33 L508.81,413.71 L506.28,413.16 L503.74,412.67 L501.21,412.25 L498.68,411.91 L496.15,411.63 L493.62,411.42 L491.08,411.29 L488.55,411.24 L486.02,411.25 L483.49,411.35 L480.96,411.52 L478.42,411.77 L475.89,412.11 L473.36,412.52 L470.83,413.02 L468.30,413.60 L465.76,414.27 L463.23,415.02 L460.70,415.86 L458.17,416.79 L455.64,417.81 L453.10,418.92 L450.57,420.11 L448.04,421.41 L445.51,422.79 L442.98,424.27 L440.44,425.84 L437.91,427.50 L435.38,429.27 L432.85,431.12 L430.32,433.08 L427.78,435.13 L425.25,437.28 L422.72,439.52 L420.19,441.87 L417.66,444.31 L415.12,446.86 L412.59,449.50 L410.06,452.24 L407.53,455.08 L405.00,458.03 L402.46,461.07 L399.93,464.21 L397.40,467.46 Z" fill="#ff0000" fill-opacity="0.110" stroke="none"/>
<line x1="397.40" y1="418.52" x2="650.60" y2="418.52" stroke="#b2b2b2" stroke-width="2.2"/>
<line x1="524.00" y1="370.85" x2="524.00" y2="608.45" stroke="#b2b2b2" stroke-width="2.2"/>
<path d="M397.40,431.58 L399.93,430.29 L402.46,429.04 L405.00,427.83 L407.53,426.67 L410.06,425.54 L412.59,424.46 L415.12,423.42 L417.66,422.42 L420.19,421.47 L422.72,420.55 L425.25,419.68 L427.78,418.85 L430.32,418.06 L432.85,417.31 L435.38,416.61 L437.91,415.95 L440.44,415.33 L442.98,414.75 L445.51,414.21 L448.04,413.72 L450.57,413.26 L453.10,412.85 L455.64,412.48 L458.17,412.16 L460.70,411.87 L463.23,411.63 L465.76,411.43 L468.30,411.27 L470.83,411.15 L473.36,411.07 L475.89,411.04 L478.42,411.05 L480.96,411.10 L483.49,411.19 L486.02,411.33 L488.55,411.50 L491.08,411.72 L493.62,411.98 L496.15,412.28 L498.68,412.63 L501.21,413.01 L503.74,413.44 L506.28,413.91 L508.81,414.42 L511.34,414.97 L513.87,415.57 L516.40,416.21 L518.94,416.89 L521.47,417.61 L524.00,418.37 L526.53,419.18 L529.06,420.02 L531.60,420.91 L534.13,421.84 L536.66,422.81 L539.19,423.83 L541.72,424.89 L544.26,425.98 L546.79,427.12 L549.32,428.31 L551.85,429.53 L554.38,430.80 L556.92,432.11 L559.45,433.46 L561.98,434.85 L564.51,436.28 L567.04,437.76 L569.58,439.28 L572.11,440.84 L574.64,442.44 L577.17,444.08 L579.70,445.77 L582.24,447.49 L584.77,449.26 L587.30,451.08 L589.83,452.93 L592.36,454.82 L594.90,456.76 L597.43,458.74 L599.96,460.76 L602.49,462.82 L605.02,464.93 L607.56,467.08 L610.09,469.27 L612.62,471.50 L615.15,473.77 L617.68,476.08 L620.22,478.44 L622.75,480.84 L625.28,483.28 L627.81,485.76 L630.34,488.29 L632.88,490.85 L635.41,493.46 L637.94,496.11 L640.47,498.80 L643.00,501.54 L645.54,504.31 L648.07,507.13 L650.60,509.99" fill="none" stroke="#00c800" stroke-width="2.3"/>
<path d="M397.40,429.44 L399.93,427.45 L402.46,425.52 L405.00,423.67 L407.53,421.90 L410.06,420.19 L412.59,418.56 L415.12,417.00 L417.66,415.51 L420.19,414.09 L422.72,412.75 L425.25,411.48 L427.78,410.28 L430.32,409.16 L432.85,408.10 L435.38,407.12 L437.91,406.21 L440.44,405.37 L442.98,404.61 L445.51,403.92 L448.04,403.30 L450.57,402.75 L453.10,402.28 L455.64,401.87 L458.17,401.54 L460.70,401.29 L463.23,401.10 L465.76,400.99 L468.30,400.95 L470.83,400.98 L473.36,401.08 L475.89,401.26 L478.42,401.51 L480.96,401.83 L483.49,402.23 L486.02,402.69 L488.55,403.23 L491.08,403.84 L493.62,404.52 L496.15,405.28 L498.68,406.11 L501.21,407.01 L503.74,407.98 L506.28,409.03 L508.81,410.14 L511.34,411.33 L513.87,412.60 L516.40,413.93 L518.94,415.34 L521.47,416.82 L524.00,418.37 L526.53,419.99 L529.06,421.69 L531.60,423.46 L534.13,425.30 L536.66,427.22 L539.19,429.20 L541.72,431.26 L544.26,433.39 L546.79,435.59 L549.32,437.87 L551.85,440.22 L554.38,442.64 L556.92,445.13 L559.45,447.70 L561.98,450.33 L564.51,453.04 L567.04,455.83 L569.58,458.68 L572.11,461.61 L574.64,464.61 L577.17,467.68 L579.70,470.83 L582.24,474.04 L584.77,477.33 L587.30,480.69 L589.83,484.13 L592.36,487.63 L594.90,491.21 L597.43,494.86 L599.96,498.59 L602.49,502.38 L605.02,506.25 L607.56,510.19 L610.09,514.20 L612.62,518.29 L615.15,522.45 L617.68,526.68 L620.22,530.98 L622.75,535.35 L625.28,539.80 L627.81,544.32 L630.34,548.91 L632.88,553.58 L635.41,558.31 L637.94,563.12 L640.47,568.00 L643.00,572.96 L645.54,577.98 L648.07,583.08 L650.60,588.25" fill="none" stroke="#ff0000" stroke-width="2.3"/>
</g>
<rect x="397.40" y="370.85" width="253.20" height="237.60" fill="none" stroke="#555555" stroke-width="1"/>
<path d="M422.72,608.45 v3 M422.72,370.85 v-3 M473.36,608.45 v3 M473.36,370.85 v-3 M524.00,608.45 v3 M524.00,370.85 v-3 M574.64,608.45 v3 M574.64,370.85 v-3 M625.28,608.45 v3 M625.28,370.85 v-3 M397.40,370.85 h-3 M650.60,370.85 h3 M397.40,418.37 h-3 M650.60,418.37 h3 M397.40,465.89 h-3 M650.60,465.89 h3 M397.40,513.41 h-3 M650.60,513.41 h3 M397.40,560.93 h-3 M650.60,560.93 h3 M397.40,608.45 h-3 M650.60,608.45 h3" stroke="#555555" stroke-width="1" fill="none"/>
<text x="422.72" y="624.85" text-anchor="middle" class="t">-2</text>
<text x="473.36" y="624.85" text-anchor="middle" class="t">-1</text>
<text x="524.00" y="624.85" text-anchor="middle" class="t">0</text>
<text x="574.64" y="624.85" text-anchor="middle" class="t">1</text>
<text x="625.28" y="624.85" text-anchor="middle" class="t">2</text>
<text x="391.60" y="375.15" text-anchor="end" class="t">0.02</text>
<text x="391.60" y="422.67" text-anchor="end" class="t">0</text>
<text x="391.60" y="470.19" text-anchor="end" class="t">-0.02</text>
<text x="391.60" y="517.71" text-anchor="end" class="t">-0.04</text>
<text x="391.60" y="565.23" text-anchor="end" class="t">-0.06</text>
<text x="391.60" y="612.75" text-anchor="end" class="t">-0.08</text>
<text x="524.00" y="639.45" text-anchor="middle" class="t">D(0)JF(1) Niño3.4 (s.d.)</text>
<text transform="translate(362.40,490.05) rotate(-90)" text-anchor="middle" class="t">Cumulative change in ln(GDP per capita)</text>
<text x="397.60" y="361.75" class="lt">d</text>
<line x1="411.00" y1="567.65" x2="456.60" y2="567.65" stroke="#00c800" stroke-width="2.3"/>
<text x="460.10" y="572.05" class="t k">High-income</text>
<line x1="411.00" y1="582.55" x2="456.60" y2="582.55" stroke="#ff0000" stroke-width="2.3"/>
<text x="460.10" y="586.95" class="t k">Lower-income</text>
<rect x="56.46" y="300.00" width="14.51" height="33.00" fill="#b3b3b3" fill-opacity="1.000" stroke="#000000" stroke-width="1.75"/>
<rect x="74.60" y="330.60" width="14.51" height="2.40" fill="#b3b3b3" fill-opacity="1.000" stroke="#000000" stroke-width="1.75"/>
<rect x="92.73" y="325.10" width="14.51" height="7.90" fill="#b3b3b3" fill-opacity="1.000" stroke="#000000" stroke-width="1.75"/>
<rect x="110.86" y="321.40" width="14.51" height="11.60" fill="#b3b3b3" fill-opacity="1.000" stroke="#000000" stroke-width="1.75"/>
<rect x="128.99" y="304.60" width="14.51" height="28.40" fill="#b3b3b3" fill-opacity="1.000" stroke="#000000" stroke-width="1.75"/>
<rect x="147.12" y="305.70" width="14.51" height="27.30" fill="#b3b3b3" fill-opacity="1.000" stroke="#000000" stroke-width="1.75"/>
<rect x="165.26" y="313.60" width="14.51" height="19.40" fill="#b3b3b3" fill-opacity="1.000" stroke="#000000" stroke-width="1.75"/>
<rect x="183.39" y="312.50" width="14.51" height="20.50" fill="#b3b3b3" fill-opacity="1.000" stroke="#000000" stroke-width="1.75"/>
<rect x="201.52" y="313.80" width="14.51" height="19.20" fill="#b3b3b3" fill-opacity="1.000" stroke="#000000" stroke-width="1.75"/>
<rect x="219.65" y="324.90" width="14.51" height="8.10" fill="#b3b3b3" fill-opacity="1.000" stroke="#000000" stroke-width="1.75"/>
<rect x="237.78" y="324.90" width="14.51" height="8.10" fill="#b3b3b3" fill-opacity="1.000" stroke="#000000" stroke-width="1.75"/>
<rect x="255.92" y="328.60" width="14.51" height="4.40" fill="#b3b3b3" fill-opacity="1.000" stroke="#000000" stroke-width="1.75"/>
<rect x="274.05" y="327.50" width="14.51" height="5.50" fill="#b3b3b3" fill-opacity="1.000" stroke="#000000" stroke-width="1.75"/>
<rect x="292.18" y="322.70" width="14.51" height="10.30" fill="#b3b3b3" fill-opacity="1.000" stroke="#000000" stroke-width="1.75"/>
<line x1="54.15" y1="333.30" x2="308.50" y2="333.30" stroke="#3a3a3a" stroke-width="0.9"/>
<path d="M72.78,333.30 v3 M90.91,333.30 v3 M109.05,333.30 v3 M127.18,333.30 v3 M145.31,333.30 v3 M163.44,333.30 v3 M181.57,333.30 v3 M199.71,333.30 v3 M217.84,333.30 v3 M235.97,333.30 v3 M254.10,333.30 v3 M272.24,333.30 v3 M290.37,333.30 v3" stroke="#3a3a3a" stroke-width="0.9" fill="none"/>
<text x="296.60" y="308.90" text-anchor="end" class="t k">Global distribution of</text>
<text transform="translate(307.20,308.90) scale(0.86,1)" text-anchor="end" class="t k psi">Ψ</text>
<text x="72.78" y="349.90" text-anchor="middle" class="t">0</text>
<text x="90.91" y="349.90" text-anchor="middle" class="t">0.1</text>
<text x="109.05" y="349.90" text-anchor="middle" class="t">0.2</text>
<text x="127.18" y="349.90" text-anchor="middle" class="t">0.3</text>
<text x="145.31" y="349.90" text-anchor="middle" class="t">0.5</text>
<text x="163.44" y="349.90" text-anchor="middle" class="t">1</text>
<text x="181.57" y="349.90" text-anchor="middle" class="t">1.5</text>
<text x="199.71" y="349.90" text-anchor="middle" class="t">2</text>
<text x="217.84" y="349.90" text-anchor="middle" class="t">2.5</text>
<text x="235.97" y="349.90" text-anchor="middle" class="t">3</text>
<text x="254.10" y="349.90" text-anchor="middle" class="t">4</text>
<text x="272.24" y="349.90" text-anchor="middle" class="t">5</text>
<text x="290.37" y="349.90" text-anchor="middle" class="t">6</text>
<rect x="399.21" y="300.00" width="14.47" height="33.00" fill="#ffa500" fill-opacity="0.100" stroke="#ffa500" stroke-width="1.75"/>
<rect x="417.29" y="330.60" width="14.47" height="2.40" fill="#ffa500" fill-opacity="0.100" stroke="#ffa500" stroke-width="1.75"/>
<rect x="435.38" y="325.10" width="14.47" height="7.90" fill="#ffa500" fill-opacity="0.100" stroke="#ffa500" stroke-width="1.75"/>
<rect x="453.47" y="321.40" width="14.47" height="11.60" fill="#ffa500" fill-opacity="0.100" stroke="#ffa500" stroke-width="1.75"/>
<rect x="471.55" y="304.60" width="14.47" height="28.40" fill="#ffa500" fill-opacity="0.100" stroke="#ffa500" stroke-width="1.75"/>
<rect x="489.64" y="305.70" width="14.47" height="27.30" fill="#ffa500" fill-opacity="0.100" stroke="#ffa500" stroke-width="1.75"/>
<rect x="507.72" y="313.60" width="14.47" height="19.40" fill="#8b4513" fill-opacity="0.100" stroke="#8b4513" stroke-width="1.75"/>
<rect x="525.81" y="312.50" width="14.47" height="20.50" fill="#8b4513" fill-opacity="0.100" stroke="#8b4513" stroke-width="1.75"/>
<rect x="543.89" y="313.80" width="14.47" height="19.20" fill="#8b4513" fill-opacity="0.100" stroke="#8b4513" stroke-width="1.75"/>
<rect x="561.98" y="324.90" width="14.47" height="8.10" fill="#8b4513" fill-opacity="0.100" stroke="#8b4513" stroke-width="1.75"/>
<rect x="580.07" y="324.90" width="14.47" height="8.10" fill="#8b4513" fill-opacity="0.100" stroke="#8b4513" stroke-width="1.75"/>
<rect x="598.15" y="328.60" width="14.47" height="4.40" fill="#8b4513" fill-opacity="0.100" stroke="#8b4513" stroke-width="1.75"/>
<rect x="616.24" y="327.50" width="14.47" height="5.50" fill="#8b4513" fill-opacity="0.100" stroke="#8b4513" stroke-width="1.75"/>
<rect x="634.32" y="322.70" width="14.47" height="10.30" fill="#8b4513" fill-opacity="0.100" stroke="#8b4513" stroke-width="1.75"/>
<line x1="396.90" y1="333.30" x2="650.60" y2="333.30" stroke="#3a3a3a" stroke-width="0.9"/>
<path d="M415.49,333.30 v3 M433.57,333.30 v3 M451.66,333.30 v3 M469.74,333.30 v3 M487.83,333.30 v3 M505.91,333.30 v3 M524.00,333.30 v3 M542.09,333.30 v3 M560.17,333.30 v3 M578.26,333.30 v3 M596.34,333.30 v3 M614.43,333.30 v3 M632.51,333.30 v3" stroke="#3a3a3a" stroke-width="0.9" fill="none"/>
<text x="638.70" y="308.90" text-anchor="end" class="t k">Global distribution of</text>
<text transform="translate(649.30,308.90) scale(0.86,1)" text-anchor="end" class="t k psi">Ψ</text>
<text x="415.49" y="349.90" text-anchor="middle" class="t">0</text>
<text x="433.57" y="349.90" text-anchor="middle" class="t">0.1</text>
<text x="451.66" y="349.90" text-anchor="middle" class="t">0.2</text>
<text x="469.74" y="349.90" text-anchor="middle" class="t">0.3</text>
<text x="487.83" y="349.90" text-anchor="middle" class="t">0.5</text>
<text x="505.91" y="349.90" text-anchor="middle" class="t">1</text>
<text x="524.00" y="349.90" text-anchor="middle" class="t">1.5</text>
<text x="542.09" y="349.90" text-anchor="middle" class="t">2</text>
<text x="560.17" y="349.90" text-anchor="middle" class="t">2.5</text>
<text x="578.26" y="349.90" text-anchor="middle" class="t">3</text>
<text x="596.34" y="349.90" text-anchor="middle" class="t">4</text>
<text x="614.43" y="349.90" text-anchor="middle" class="t">5</text>
<text x="632.51" y="349.90" text-anchor="middle" class="t">6</text>
<rect x="56.46" y="674.80" width="14.51" height="7.20" fill="#006400" fill-opacity="0.110" stroke="#006400" stroke-width="1.75"/>
<line x1="74.60" y1="681.90" x2="89.10" y2="681.90" stroke="#006400" stroke-width="1.1" stroke-opacity="0.75"/>
<rect x="92.73" y="678.40" width="14.51" height="3.60" fill="#006400" fill-opacity="0.110" stroke="#006400" stroke-width="1.75"/>
<rect x="110.86" y="676.40" width="14.51" height="5.60" fill="#006400" fill-opacity="0.110" stroke="#006400" stroke-width="1.75"/>
<rect x="128.99" y="676.40" width="14.51" height="5.60" fill="#006400" fill-opacity="0.110" stroke="#006400" stroke-width="1.75"/>
<rect x="147.12" y="671.30" width="14.51" height="10.70" fill="#006400" fill-opacity="0.110" stroke="#006400" stroke-width="1.75"/>
<rect x="165.26" y="668.60" width="14.51" height="13.40" fill="#006400" fill-opacity="0.110" stroke="#006400" stroke-width="1.75"/>
<rect x="183.39" y="669.80" width="14.51" height="12.20" fill="#006400" fill-opacity="0.110" stroke="#006400" stroke-width="1.75"/>
<rect x="201.52" y="678.30" width="14.51" height="3.70" fill="#006400" fill-opacity="0.110" stroke="#006400" stroke-width="1.75"/>
<rect x="219.65" y="680.20" width="14.51" height="1.80" fill="#006400" fill-opacity="0.110" stroke="#006400" stroke-width="1.75"/>
<rect x="237.78" y="678.20" width="14.51" height="3.80" fill="#006400" fill-opacity="0.110" stroke="#006400" stroke-width="1.75"/>
<rect x="255.92" y="679.50" width="14.51" height="2.50" fill="#006400" fill-opacity="0.110" stroke="#006400" stroke-width="1.75"/>
<line x1="274.05" y1="681.90" x2="288.55" y2="681.90" stroke="#006400" stroke-width="1.1" stroke-opacity="0.75"/>
<line x1="54.15" y1="682.30" x2="308.50" y2="682.30" stroke="#8a8a8a" stroke-width="0.8"/>
<text x="296.60" y="658.20" text-anchor="end" class="t k">Agriculture-dependent country</text>
<text transform="translate(307.20,658.20) scale(0.86,1)" text-anchor="end" class="t k psi">Ψ</text>
<rect x="56.46" y="690.30" width="14.51" height="28.60" fill="#0000ff" fill-opacity="0.100" stroke="#0000ff" stroke-width="1.75"/>
<rect x="74.60" y="705.00" width="14.51" height="13.90" fill="#0000ff" fill-opacity="0.100" stroke="#0000ff" stroke-width="1.75"/>
<rect x="92.73" y="702.30" width="14.51" height="16.60" fill="#0000ff" fill-opacity="0.100" stroke="#0000ff" stroke-width="1.75"/>
<rect x="110.86" y="708.50" width="14.51" height="10.40" fill="#0000ff" fill-opacity="0.100" stroke="#0000ff" stroke-width="1.75"/>
<rect x="128.99" y="695.00" width="14.51" height="23.90" fill="#0000ff" fill-opacity="0.100" stroke="#0000ff" stroke-width="1.75"/>
<rect x="147.12" y="711.30" width="14.51" height="7.60" fill="#0000ff" fill-opacity="0.100" stroke="#0000ff" stroke-width="1.75"/>
<rect x="165.26" y="713.30" width="14.51" height="5.60" fill="#0000ff" fill-opacity="0.100" stroke="#0000ff" stroke-width="1.75"/>
<rect x="183.39" y="709.80" width="14.51" height="9.10" fill="#0000ff" fill-opacity="0.100" stroke="#0000ff" stroke-width="1.75"/>
<rect x="201.52" y="712.10" width="14.51" height="6.80" fill="#0000ff" fill-opacity="0.100" stroke="#0000ff" stroke-width="1.75"/>
<rect x="219.65" y="716.60" width="14.51" height="2.30" fill="#0000ff" fill-opacity="0.100" stroke="#0000ff" stroke-width="1.75"/>
<rect x="237.78" y="712.90" width="14.51" height="6.00" fill="#0000ff" fill-opacity="0.100" stroke="#0000ff" stroke-width="1.75"/>
<rect x="255.92" y="714.20" width="14.51" height="4.70" fill="#0000ff" fill-opacity="0.100" stroke="#0000ff" stroke-width="1.75"/>
<rect x="274.05" y="715.80" width="14.51" height="3.10" fill="#0000ff" fill-opacity="0.100" stroke="#0000ff" stroke-width="1.75"/>
<line x1="54.15" y1="719.20" x2="308.50" y2="719.20" stroke="#3a3a3a" stroke-width="0.9"/>
<path d="M72.78,719.20 v3 M90.91,719.20 v3 M109.05,719.20 v3 M127.18,719.20 v3 M145.31,719.20 v3 M163.44,719.20 v3 M181.57,719.20 v3 M199.71,719.20 v3 M217.84,719.20 v3 M235.97,719.20 v3 M254.10,719.20 v3 M272.24,719.20 v3 M290.37,719.20 v3" stroke="#3a3a3a" stroke-width="0.9" fill="none"/>
<text x="296.60" y="694.10" text-anchor="end" class="t k">Agriculture-independent country</text>
<text transform="translate(307.20,694.10) scale(0.86,1)" text-anchor="end" class="t k psi">Ψ</text>
<text x="72.78" y="735.60" text-anchor="middle" class="t">0</text>
<text x="90.91" y="735.60" text-anchor="middle" class="t">0.1</text>
<text x="109.05" y="735.60" text-anchor="middle" class="t">0.2</text>
<text x="127.18" y="735.60" text-anchor="middle" class="t">0.3</text>
<text x="145.31" y="735.60" text-anchor="middle" class="t">0.5</text>
<text x="163.44" y="735.60" text-anchor="middle" class="t">1</text>
<text x="181.57" y="735.60" text-anchor="middle" class="t">1.5</text>
<text x="199.71" y="735.60" text-anchor="middle" class="t">2</text>
<text x="217.84" y="735.60" text-anchor="middle" class="t">2.5</text>
<text x="235.97" y="735.60" text-anchor="middle" class="t">3</text>
<text x="254.10" y="735.60" text-anchor="middle" class="t">4</text>
<text x="272.24" y="735.60" text-anchor="middle" class="t">5</text>
<text x="290.37" y="735.60" text-anchor="middle" class="t">6</text>
<rect x="399.21" y="652.40" width="14.47" height="29.60" fill="#00c800" fill-opacity="0.100" stroke="#00c800" stroke-width="1.75"/>
<rect x="417.29" y="667.30" width="14.47" height="14.70" fill="#00c800" fill-opacity="0.100" stroke="#00c800" stroke-width="1.75"/>
<rect x="435.38" y="663.60" width="14.47" height="18.40" fill="#00c800" fill-opacity="0.100" stroke="#00c800" stroke-width="1.75"/>
<rect x="453.47" y="669.30" width="14.47" height="12.70" fill="#00c800" fill-opacity="0.100" stroke="#00c800" stroke-width="1.75"/>
<rect x="471.55" y="655.80" width="14.47" height="26.20" fill="#00c800" fill-opacity="0.100" stroke="#00c800" stroke-width="1.75"/>
<rect x="489.64" y="674.80" width="14.47" height="7.20" fill="#00c800" fill-opacity="0.100" stroke="#00c800" stroke-width="1.75"/>
<rect x="507.72" y="678.50" width="14.47" height="3.50" fill="#00c800" fill-opacity="0.100" stroke="#00c800" stroke-width="1.75"/>
<rect x="525.81" y="676.50" width="14.47" height="5.50" fill="#00c800" fill-opacity="0.100" stroke="#00c800" stroke-width="1.75"/>
<rect x="543.89" y="678.30" width="14.47" height="3.70" fill="#00c800" fill-opacity="0.100" stroke="#00c800" stroke-width="1.75"/>
<rect x="561.98" y="681.40" width="14.47" height="0.60" fill="#00c800" fill-opacity="0.100" stroke="#00c800" stroke-width="1.75"/>
<rect x="580.07" y="681.40" width="14.47" height="0.60" fill="#00c800" fill-opacity="0.100" stroke="#00c800" stroke-width="1.75"/>
<rect x="598.15" y="676.50" width="14.47" height="5.50" fill="#00c800" fill-opacity="0.100" stroke="#00c800" stroke-width="1.75"/>
<rect x="616.24" y="681.40" width="14.47" height="0.60" fill="#00c800" fill-opacity="0.100" stroke="#00c800" stroke-width="1.75"/>
<line x1="396.90" y1="682.30" x2="650.60" y2="682.30" stroke="#8a8a8a" stroke-width="0.8"/>
<text x="638.70" y="658.20" text-anchor="end" class="t k">High-income country</text>
<text transform="translate(649.30,658.20) scale(0.86,1)" text-anchor="end" class="t k psi">Ψ</text>
<rect x="399.21" y="702.90" width="14.47" height="16.00" fill="#ff0000" fill-opacity="0.110" stroke="#ff0000" stroke-width="1.75"/>
<rect x="417.29" y="715.80" width="14.47" height="3.10" fill="#ff0000" fill-opacity="0.110" stroke="#ff0000" stroke-width="1.75"/>
<rect x="435.38" y="710.10" width="14.47" height="8.80" fill="#ff0000" fill-opacity="0.110" stroke="#ff0000" stroke-width="1.75"/>
<rect x="453.47" y="713.80" width="14.47" height="5.10" fill="#ff0000" fill-opacity="0.110" stroke="#ff0000" stroke-width="1.75"/>
<rect x="471.55" y="711.90" width="14.47" height="7.00" fill="#ff0000" fill-opacity="0.110" stroke="#ff0000" stroke-width="1.75"/>
<rect x="489.64" y="701.10" width="14.47" height="17.80" fill="#ff0000" fill-opacity="0.110" stroke="#ff0000" stroke-width="1.75"/>
<rect x="507.72" y="697.40" width="14.47" height="21.50" fill="#ff0000" fill-opacity="0.110" stroke="#ff0000" stroke-width="1.75"/>
<rect x="525.81" y="695.40" width="14.47" height="23.50" fill="#ff0000" fill-opacity="0.110" stroke="#ff0000" stroke-width="1.75"/>
<rect x="543.89" y="710.10" width="14.47" height="8.80" fill="#ff0000" fill-opacity="0.110" stroke="#ff0000" stroke-width="1.75"/>
<rect x="561.98" y="713.60" width="14.47" height="5.30" fill="#ff0000" fill-opacity="0.110" stroke="#ff0000" stroke-width="1.75"/>
<rect x="580.07" y="710.10" width="14.47" height="8.80" fill="#ff0000" fill-opacity="0.110" stroke="#ff0000" stroke-width="1.75"/>
<rect x="598.15" y="713.80" width="14.47" height="5.10" fill="#ff0000" fill-opacity="0.110" stroke="#ff0000" stroke-width="1.75"/>
<rect x="616.24" y="715.80" width="14.47" height="3.10" fill="#ff0000" fill-opacity="0.110" stroke="#ff0000" stroke-width="1.75"/>
<line x1="396.90" y1="719.20" x2="650.60" y2="719.20" stroke="#3a3a3a" stroke-width="0.9"/>
<path d="M415.49,719.20 v3 M433.57,719.20 v3 M451.66,719.20 v3 M469.74,719.20 v3 M487.83,719.20 v3 M505.91,719.20 v3 M524.00,719.20 v3 M542.09,719.20 v3 M560.17,719.20 v3 M578.26,719.20 v3 M596.34,719.20 v3 M614.43,719.20 v3 M632.51,719.20 v3" stroke="#3a3a3a" stroke-width="0.9" fill="none"/>
<text x="638.70" y="694.10" text-anchor="end" class="t k">Lower-income country</text>
<text transform="translate(649.30,694.10) scale(0.86,1)" text-anchor="end" class="t k psi">Ψ</text>
<text x="415.49" y="735.60" text-anchor="middle" class="t">0</text>
<text x="433.57" y="735.60" text-anchor="middle" class="t">0.1</text>
<text x="451.66" y="735.60" text-anchor="middle" class="t">0.2</text>
<text x="469.74" y="735.60" text-anchor="middle" class="t">0.3</text>
<text x="487.83" y="735.60" text-anchor="middle" class="t">0.5</text>
<text x="505.91" y="735.60" text-anchor="middle" class="t">1</text>
<text x="524.00" y="735.60" text-anchor="middle" class="t">1.5</text>
<text x="542.09" y="735.60" text-anchor="middle" class="t">2</text>
<text x="560.17" y="735.60" text-anchor="middle" class="t">2.5</text>
<text x="578.26" y="735.60" text-anchor="middle" class="t">3</text>
<text x="596.34" y="735.60" text-anchor="middle" class="t">4</text>
<text x="614.43" y="735.60" text-anchor="middle" class="t">5</text>
<text x="632.51" y="735.60" text-anchor="middle" class="t">6</text>
</svg>
</body></html>
